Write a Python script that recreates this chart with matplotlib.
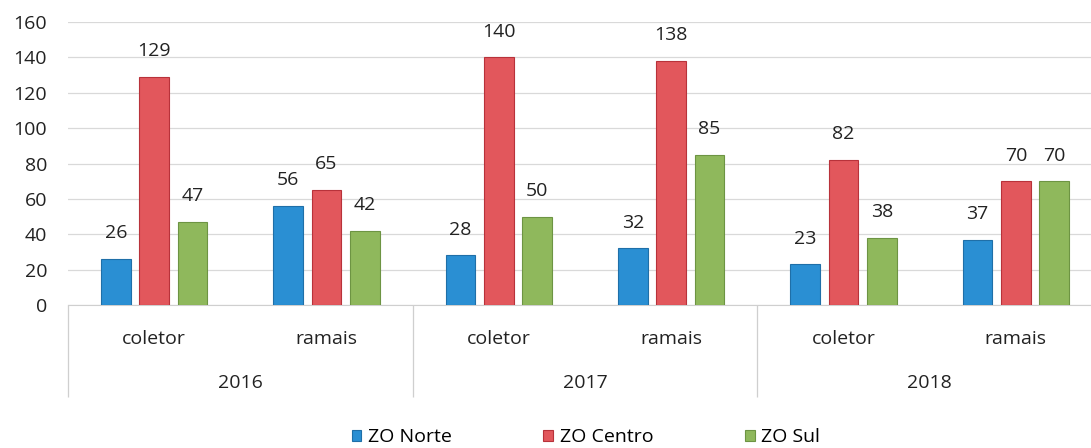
import numpy as np
import matplotlib
matplotlib.use("Agg")
import matplotlib.pyplot as plt

plt.rcParams['font.family'] = ['Open Sans', 'DejaVu Sans']

# Data
categories = ['coletor', 'ramais', 'coletor', 'ramais', 'coletor', 'ramais']
years = ['2016', '2017', '2018']
series_names = ['ZO Norte', 'ZO Centro', 'ZO Sul']
zo_norte = [26, 56, 28, 32, 23, 37]
zo_centro = [129, 65, 140, 138, 82, 70]
zo_sul = [47, 42, 50, 85, 38, 70]
yticks = [0, 20, 40, 60, 80, 100, 120, 140, 160]

colors = ['#2a8fd3', '#e2575c', '#8fb85c']
edges = ['#1f6fa8', '#b8323a', '#6d9443']
txt = '#222222'
fs = 14

fig = plt.figure(figsize=(10.91, 4.48), dpi=100)
ax = fig.add_axes([68 / 1091, 1 - 305 / 448, (1102 - 68) / 1091, (305 - 22) / 448])

x = np.arange(len(categories))
offsets = [-0.222, 0.0, 0.222]
width = 0.172
for vals, off, c, e, name in zip([zo_norte, zo_centro, zo_sul], offsets, colors, edges, series_names):
    bars = ax.bar(x + off, vals, width, color=c, edgecolor=e, linewidth=0.8, label=name, zorder=3)
    for b, v in zip(bars, vals):
        ax.annotate(str(v), (b.get_x() + b.get_width() / 2, v), xytext=(0, 12),
                    textcoords='offset points', ha='center', va='bottom',
                    fontsize=fs, color=txt)

ax.set_xlim(-0.5, len(categories) - 0.5)
ax.set_ylim(0, 160)
ax.set_yticks(yticks)
ax.tick_params(axis='y', length=0, pad=15, labelsize=fs, labelcolor=txt)
ax.grid(axis='y', color='#d9d9d9', linewidth=0.9, zorder=0)
for s in ['top', 'right', 'left']:
    ax.spines[s].set_visible(False)
ax.spines['bottom'].set_color('#cfcfcf')

# first level of category axis
ax.set_xticks(x, labels=categories)
ax.tick_params(axis='x', length=0, pad=18, labelsize=fs, labelcolor=txt)

# second level: years with separators
sec = ax.secondary_xaxis('bottom')
sec.set_xticks([-0.5, 1.5, 3.5, 5.5], labels=['', '', '', ''])
sec.tick_params(axis='x', which='major', length=66, width=0.9, color='#cfcfcf')
sec.set_xticks([0.5, 2.5, 4.5], labels=years, minor=True)
sec.tick_params(axis='x', which='minor', length=0, pad=50, labelsize=fs, labelcolor=txt)
sec.spines['bottom'].set_visible(False)

leg = fig.legend(loc='center', bbox_to_anchor=(586 / 1091, 1 - 437 / 448), ncol=3,
                 frameon=False, fontsize=fs, handlelength=0.5, handleheight=0.5,
                 columnspacing=4.7, handletextpad=0.35)

fig.savefig('out.png', dpi=100)
